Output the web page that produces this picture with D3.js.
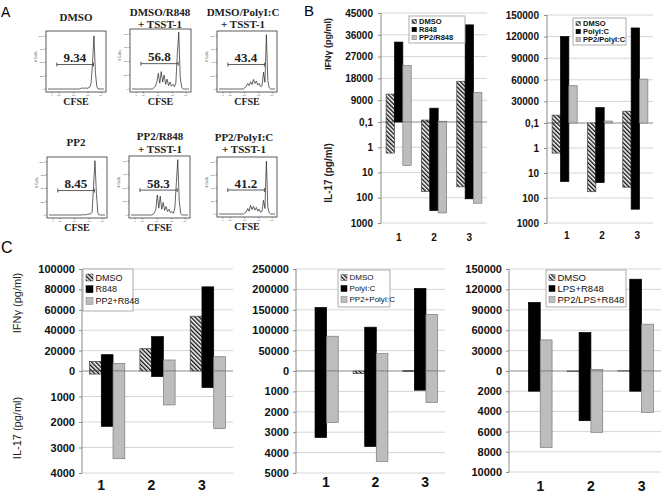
<!DOCTYPE html>
<html><head><meta charset="utf-8">
<script src="https://cdn.jsdelivr.net/npm/d3@7"></script>
<style>body{margin:0;background:#fff}svg{display:block}</style>
</head><body>
<svg id="fig" width="664" height="496"></svg>
<script>
// ---------- DATA ----------
// Panel A (CFSE histograms)
const flowTitles = [["DMSO"], ["DMSO/R848", "+ TSST-1"], ["DMSO/PolyI:C", "+ TSST-1"],
                    ["PP2"], ["PP2/R848", "+ TSST-1"], ["PP2/PolyI:C", "+ TSST-1"]];
const flowGates = ["9.34", "56.8", "43.4", "8.45", "58.3", "41.2"];
const flowXTickLabels = ["0", "10¹", "10²", "10³", "10⁴"];
const flowYTickLabels = [["0","250","500","750","1000"], ["0","150","300","450","600"], ["0","200","400","600","800"],
                         ["0","250","500","750","1000"], ["0","150","300","450","600"], ["0","200","400","600","800"]];
const histDMSO     = [0,0,0,0,0,0,0,0,0,0, 0,0,0,0,0,0,0,0,0,0, 0,0,0,0.01,0.02,0.01,0.02,0.01,0.02,0.03, 0.1,0.45,0.95,0.3,0.04,0,0,0,0,0];
const histDMSOR848 = [0,0,0,0,0,0,0,0,0,0, 0,0,0,0,0,0.02,0.05,0.12,0.27,0.1, 0.3,0.12,0.24,0.08,0.17,0.06,0.12,0.05,0.08,0.04, 0.1,0.6,0.98,0.2,0.03,0,0,0,0,0];
const histDMSOPIC  = [0,0,0,0,0,0,0,0,0,0, 0,0,0,0,0,0,0,0,0.02,0.05, 0.1,0.06,0.13,0.08,0.17,0.1,0.14,0.07,0.1,0.04, 0.06,0.3,0.12,0.97,0.15,0.02,0,0,0,0];
const histPP2      = [0,0,0,0,0,0,0,0,0,0, 0,0,0,0,0,0,0,0,0,0, 0,0,0,0,0.01,0,0.01,0.01,0.02,0.02, 0.05,0.5,0.97,0.4,0.04,0,0,0,0,0];
const histPP2R848  = [0,0,0,0,0,0,0,0,0,0, 0,0,0,0,0,0.01,0.04,0.1,0.35,0.12, 0.33,0.1,0.22,0.08,0.15,0.06,0.1,0.04,0.06,0.03, 0.12,0.55,0.97,0.25,0.03,0,0,0,0,0];
const histPP2PIC   = [0,0,0,0,0,0,0,0,0,0, 0,0,0,0,0,0,0,0,0.02,0.04, 0.1,0.05,0.16,0.08,0.14,0.07,0.12,0.05,0.09,0.03, 0.05,0.25,0.1,0.96,0.12,0.02,0,0,0,0];

// Panel B / C shared
const categories = ["1", "2", "3"];

// Panel B left (IFNγ linear, IL-17 log)
const bLeftSeries = ["DMSO", "R848", "PP2/R848"];
const bLeftIFN  = [[11500, 800, 16800], [33000, 5700, 40100], [23300, 300, 12150]];
const bLeftIL17 = [[1.7, 56, 37], [0.1, 320, 110], [5.2, 400, 165]];
const bLeftUpperTicks = [0, 9000, 18000, 27000, 36000, 45000];
// Panel B right
const bRightSeries = ["DMSO", "PolyI:C", "PP2/PolyI:C"];
const bRightIFN  = [[10900, 0, 16400], [120000, 21400, 132000], [51800, 2700, 61000]];
const bRightIL17 = [[1.6, 56, 37], [22, 24, 280], [0.1, 0.1, 0.1]];
const bRightUpperTicks = [0, 30000, 60000, 90000, 120000, 150000];
const bLowerTicks = [1, 10, 100, 1000];

// Panel C left
const cLeftSeries = ["DMSO", "R848", "PP2+R848"];
const cLeftIFN  = [[9400, 21900, 53700], [16000, 33700, 82500], [7500, 10800, 14000]];
const cLeftIL17 = [[120, 0, 0], [2170, 220, 650], [3440, 1330, 2260]];
const cLeftUpperTicks = [0, 20000, 40000, 60000, 80000, 100000];
const cLeftLowerTicks = [1000, 2000, 3000, 4000];
// Panel C middle
const cMidSeries = ["DMSO", "PolyI:C", "PP2+PolyI:C"];
const cMidIFN  = [[0, 0, 600], [155700, 107400, 202500], [85200, 42600, 138500]];
const cMidIL17 = [[0, 130, 20], [3260, 3700, 940], [2530, 4430, 1540]];
const cMidUpperTicks = [0, 50000, 100000, 150000, 200000, 250000];
const cMidLowerTicks = [1000, 2000, 3000, 4000, 5000];
// Panel C right
const cRightSeries = ["DMSO", "LPS+R848", "PP2/LPS+R848"];
const cRightIFN  = [[0, 0, 300], [100800, 56600, 135000], [45700, 2000, 68900]];
const cRightIL17 = [[0, 60, 0], [2000, 4920, 2000], [7570, 6070, 4100]];
const cRightUpperTicks = [0, 30000, 60000, 90000, 120000, 150000];
const cRightLowerTicks = [2000, 4000, 6000, 8000, 10000];

// ---------- DRAWING ----------
const svg = d3.select("#fig");
const SANS = "'Liberation Sans', Arial, Helvetica, sans-serif";
const SERIF = "'Liberation Serif', 'Times New Roman', serif";

const defs = svg.append("defs");
const pat = defs.append("pattern").attr("id", "hatch").attr("patternUnits", "userSpaceOnUse")
  .attr("width", 3).attr("height", 3).attr("patternTransform", "rotate(-45)");
pat.append("rect").attr("width", 3).attr("height", 3).attr("fill", "#fff");
pat.append("line").attr("x1", 0.7).attr("y1", 0).attr("x2", 0.7).attr("y2", 3).attr("stroke", "#111").attr("stroke-width", 1.4);

const seriesFill = ["url(#hatch)", "#000", "#bdbdbd"];
const seriesStroke = ["#444", "#000", "#7a7a7a"];

// Panel letters
svg.append("text").attr("x", 1).attr("y", 17).attr("font-family", SANS).attr("font-size", 14).text("A");
svg.append("text").attr("x", 304).attr("y", 16).attr("font-family", SANS).attr("font-size", 15).text("B");
svg.append("text").attr("x", 1).attr("y", 253).attr("font-family", SANS).attr("font-size", 16).text("C");

// ---- Panel A ----
const flowHists = [histDMSO, histDMSOR848, histDMSOPIC, histPP2, histPP2R848, histPP2PIC];
const flowBoxes = [
  {x: 46, y: 31, w: 60, h: 61}, {x: 130, y: 29, w: 61, h: 63}, {x: 217, y: 31, w: 60, h: 61},
  {x: 47, y: 157, w: 60, h: 61}, {x: 129, y: 156, w: 61, h: 62}, {x: 217, y: 157, w: 60, h: 60}
];
const titleLayout = [
  {cx: 76, ys: [21]}, {cx: 160, ys: [16, 28]}, {cx: 243, ys: [16, 28]},
  {cx: 76, ys: [146]}, {cx: 160, ys: [140, 153]}, {cx: 244, ys: [141, 153]}
];
const xTickFrac = [0.1, 0.22, 0.46, 0.7, 0.92];

flowHists.forEach((hist, k) => {
  const b = flowBoxes[k];
  const g = svg.append("g");
  // titles
  flowTitles[k].forEach((t, j) => {
    g.append("text").attr("x", titleLayout[k].cx).attr("y", titleLayout[k].ys[j])
      .attr("text-anchor", "middle").attr("font-family", SERIF).attr("font-weight", "bold")
      .attr("font-size", 11).attr("fill", "#222").text(t);
  });
  // frame
  g.append("rect").attr("x", b.x).attr("y", b.y).attr("width", b.w).attr("height", b.h)
    .attr("fill", "#fff").attr("stroke", "#333").attr("stroke-width", 0.8);
  const xs = d3.scaleLinear().domain([0, hist.length - 1]).range([b.x + 2, b.x + b.w - 2]);
  const ys = d3.scaleLinear().domain([0, 1]).range([b.y + b.h - 3, b.y + 2]);
  g.append("path").datum(hist)
    .attr("d", d3.line().x((d, i) => xs(i)).y(d => ys(d)))
    .attr("fill", "none").attr("stroke", "#222").attr("stroke-width", 0.7);
  // y ticks
  const yt = [0, 0.25, 0.5, 0.75, 1];
  yt.forEach((v, j) => {
    g.append("line").attr("x1", b.x - 1.5).attr("x2", b.x).attr("y1", ys(v * 0.95)).attr("y2", ys(v * 0.95)).attr("stroke", "#444").attr("stroke-width", 0.5);
    g.append("text").attr("x", b.x - 2.2).attr("y", ys(v * 0.95) + 0.8).attr("text-anchor", "end")
      .attr("font-family", SANS).attr("font-size", 2.5).attr("fill", "#444").text(flowYTickLabels[k][j]);
  });
  g.append("text").attr("transform", `translate(${b.x - 9.5},${b.y + b.h * 0.42}) rotate(-90)`)
    .attr("text-anchor", "middle").attr("font-family", SANS).attr("font-size", 3.5).attr("fill", "#444").text("# Cells");
  // x ticks
  xTickFrac.forEach((f, j) => {
    const xx = b.x + f * b.w;
    g.append("line").attr("x1", xx).attr("x2", xx).attr("y1", b.y + b.h).attr("y2", b.y + b.h + 1.5).attr("stroke", "#444").attr("stroke-width", 0.5);
    g.append("text").attr("x", xx).attr("y", b.y + b.h + 3.8).attr("text-anchor", "middle")
      .attr("font-family", SANS).attr("font-size", 2.5).attr("fill", "#444").text(flowXTickLabels[j]);
  });
  // gate
  const gy = b.y + b.h * 0.55;
  const gx1 = b.x + b.w * 0.18, gx2 = b.x + b.w * 0.79;
  g.append("line").attr("x1", gx1).attr("x2", gx2).attr("y1", gy).attr("y2", gy).attr("stroke", "#333").attr("stroke-width", 0.8);
  [gx1, gx2].forEach(xx => g.append("line").attr("x1", xx).attr("x2", xx).attr("y1", gy - 2).attr("y2", gy + 2).attr("stroke", "#333").attr("stroke-width", 0.8));
  g.append("text").attr("x", b.x + b.w * 0.48).attr("y", gy - 2.5).attr("text-anchor", "middle")
    .attr("font-family", SERIF).attr("font-weight", "bold").attr("font-size", 13).attr("fill", "#222").text(flowGates[k]);
  g.append("text").attr("x", b.x + b.w / 2).attr("y", b.y + b.h + 12.5).attr("text-anchor", "middle")
    .attr("font-family", SERIF).attr("font-weight", "bold").attr("font-size", 10).attr("fill", "#222").text("CFSE");
});

// ---- Bar charts (B and C) ----
function dualChart(o) {
  const g = svg.append("g");
  const x = d3.scaleBand().domain(categories).range([o.x0, o.x1]);
  const groupW = x.bandwidth() * o.groupFrac;
  const xs = d3.scaleBand().domain(o.series).range([0, groupW]);
  const yU = d3.scaleLinear().domain([0, o.uTicks[o.uTicks.length - 1]]).range([o.yZero, o.yTop]);
  const lMax = o.lTicks[o.lTicks.length - 1];
  const yL = o.log ? d3.scaleLog().domain([0.1, lMax]).range([o.yZero, o.yBot])
                   : d3.scaleLinear().domain([0, lMax]).range([o.yZero, o.yBot]);
  const lBase = o.log ? 0.1 : 0;

  // grid
  g.selectAll(".gu").data(o.uTicks.filter(t => t > 0)).join("line")
    .attr("x1", o.x0).attr("x2", o.x1).attr("y1", d => yU(d)).attr("y2", d => yU(d))
    .attr("stroke", "#d6d6d6").attr("stroke-width", 1);
  g.selectAll(".gl").data(o.lTicks).join("line")
    .attr("x1", o.x0).attr("x2", o.x1).attr("y1", d => yL(d)).attr("y2", d => yL(d))
    .attr("stroke", "#d6d6d6").attr("stroke-width", 1);
  // zero line
  g.append("line").attr("x1", o.x0).attr("x2", o.x1).attr("y1", o.yZero).attr("y2", o.yZero)
    .attr("stroke", "#8a8a8a").attr("stroke-width", 1);

  // bars
  o.series.forEach((s, si) => {
    const bx = c => x(c) + (x.bandwidth() - groupW) / 2 + xs(s);
    g.selectAll(null).data(categories.map((c, i) => ({c, v: o.up[si][i]})).filter(d => d.v > 0)).join("rect")
      .attr("x", d => bx(d.c)).attr("width", xs.bandwidth())
      .attr("y", d => yU(d.v)).attr("height", d => o.yZero - yU(d.v))
      .attr("fill", seriesFill[si]).attr("stroke", seriesStroke[si]).attr("stroke-width", 0.7);
    g.selectAll(null).data(categories.map((c, i) => ({c, v: o.low[si][i]})).filter(d => d.v > lBase)).join("rect")
      .attr("x", d => bx(d.c)).attr("width", xs.bandwidth())
      .attr("y", o.yZero).attr("height", d => yL(d.v) - o.yZero)
      .attr("fill", seriesFill[si]).attr("stroke", seriesStroke[si]).attr("stroke-width", 0.7);
  });

  // axis
  const axU = g.append("g").attr("transform", `translate(${o.x0},0)`)
    .call(d3.axisLeft(yU).tickValues(o.uTicks).tickSize(3).tickPadding(o.pad)
      .tickFormat(d => d === 0 ? o.zeroLabel : String(d)));
  const axL = g.append("g").attr("transform", `translate(${o.x0},0)`)
    .call(d3.axisLeft(yL).tickValues(o.lTicks).tickSize(3).tickPadding(o.pad).tickFormat(d => String(d)));
  [axU, axL].forEach(a => {
    a.select(".domain").remove();
    a.selectAll("line").attr("stroke", "#8a8a8a");
    a.selectAll("text").attr("font-family", SANS).attr("font-weight", "bold")
      .attr("font-size", o.tickFont).attr("fill", "#111");
  });
  g.append("line").attr("x1", o.x0).attr("x2", o.x0).attr("y1", o.yTop).attr("y2", o.yBot)
    .attr("stroke", "#8a8a8a").attr("stroke-width", 1);

  // category labels
  g.selectAll(".cl").data(categories).join("text")
    .attr("x", d => x(d) + x.bandwidth() / 2 + o.catDx).attr("y", o.catY)
    .attr("text-anchor", "middle").attr("font-family", SANS).attr("font-weight", "bold")
    .attr("font-size", o.catFont).attr("fill", "#111").text(d => d);

  // legend
  const L = o.legend;
  g.append("rect").attr("x", L.x).attr("y", L.y).attr("width", L.w).attr("height", L.h)
    .attr("fill", "#fff").attr("stroke", "#9a9a9a").attr("stroke-width", 0.8);
  o.series.forEach((s, si) => {
    const cy = L.y + L.pad + si * L.step;
    g.append("rect").attr("x", L.x + 3).attr("y", cy - L.sq / 2).attr("width", L.sq).attr("height", L.sq)
      .attr("fill", seriesFill[si]).attr("stroke", seriesStroke[si]).attr("stroke-width", 0.5);
    g.append("text").attr("x", L.x + 4 + L.sq + 1.5).attr("y", cy).attr("dy", "0.35em")
      .attr("font-family", SANS).attr("font-weight", L.bold ? "bold" : "normal")
      .attr("font-size", L.font).attr("fill", "#111").text(s);
  });

  // axis titles
  if (o.titles) {
    o.titles.forEach(t => {
      g.append("text").attr("transform", `translate(${t.x},${t.y}) rotate(-90)`)
        .attr("text-anchor", "middle").attr("dy", "0.35em")
        .attr("font-family", SANS).attr("font-weight", t.bold ? "bold" : "normal")
        .attr("font-size", t.size).attr("fill", "#222").text(t.text);
    });
  }
}

// B left
dualChart({x0: 381, x1: 487, yTop: 13, yZero: 122, yBot: 223, log: true,
  uTicks: bLeftUpperTicks, lTicks: bLowerTicks, zeroLabel: "0,1", series: bLeftSeries,
  up: bLeftIFN, low: bLeftIL17, groupFrac: 0.71, pad: 5, tickFont: 10, catY: 241, catFont: 10, catDx: 0,
  legend: {x: 409, y: 16, w: 56, h: 27, pad: 5.5, step: 8, sq: 4.5, font: 7.5, bold: true},
  titles: [{x: 328, y: 44, text: "IFNγ (pg/ml)", size: 9, bold: true},
           {x: 328, y: 173, text: "IL-17 (pg/ml)", size: 10, bold: true}]});
// B right
dualChart({x0: 547, x1: 653, yTop: 15, yZero: 123, yBot: 223, log: true,
  uTicks: bRightUpperTicks, lTicks: bLowerTicks, zeroLabel: "0,1", series: bRightSeries,
  up: bRightIFN, low: bRightIL17, groupFrac: 0.71, pad: 5, tickFont: 10, catY: 239, catFont: 10, catDx: 2,
  legend: {x: 573, y: 18, w: 53, h: 27, pad: 5.5, step: 8, sq: 4.5, font: 7.5, bold: true}});
// C left
dualChart({x0: 82, x1: 233, yTop: 269, yZero: 371, yBot: 473, log: false,
  uTicks: cLeftUpperTicks, lTicks: cLeftLowerTicks, zeroLabel: "0", series: cLeftSeries,
  up: cLeftIFN, low: cLeftIL17, groupFrac: 0.7, pad: 4, tickFont: 11, catY: 490, catFont: 14, catDx: -6,
  legend: {x: 83, y: 269, w: 50, h: 42, pad: 8.5, step: 11.7, sq: 7, font: 9, bold: false},
  titles: [{x: 17, y: 303, text: "IFNγ (pg/ml)", size: 11, bold: false},
           {x: 17, y: 428, text: "IL-17 (pg/ml)", size: 11, bold: false}]});
// C middle
dualChart({x0: 296, x1: 445, yTop: 269, yZero: 371, yBot: 473, log: false,
  uTicks: cMidUpperTicks, lTicks: cMidLowerTicks, zeroLabel: "0", series: cMidSeries,
  up: cMidIFN, low: cMidIL17, groupFrac: 0.7, pad: 4, tickFont: 11, catY: 487, catFont: 14, catDx: 5,
  legend: {x: 338, y: 270, w: 52, h: 37, pad: 7.5, step: 11, sq: 6, font: 8, bold: false}});
// C right
dualChart({x0: 509, x1: 661, yTop: 269, yZero: 371, yBot: 472, log: false,
  uTicks: cRightUpperTicks, lTicks: cRightLowerTicks, zeroLabel: "0", series: cRightSeries,
  up: cRightIFN, low: cRightIL17, groupFrac: 0.7, pad: 4, tickFont: 11, catY: 491, catFont: 14, catDx: 6,
  legend: {x: 546, y: 270, w: 80, h: 37, pad: 7.5, step: 11, sq: 6, font: 9.5, bold: false}});
</script>
</body></html>
